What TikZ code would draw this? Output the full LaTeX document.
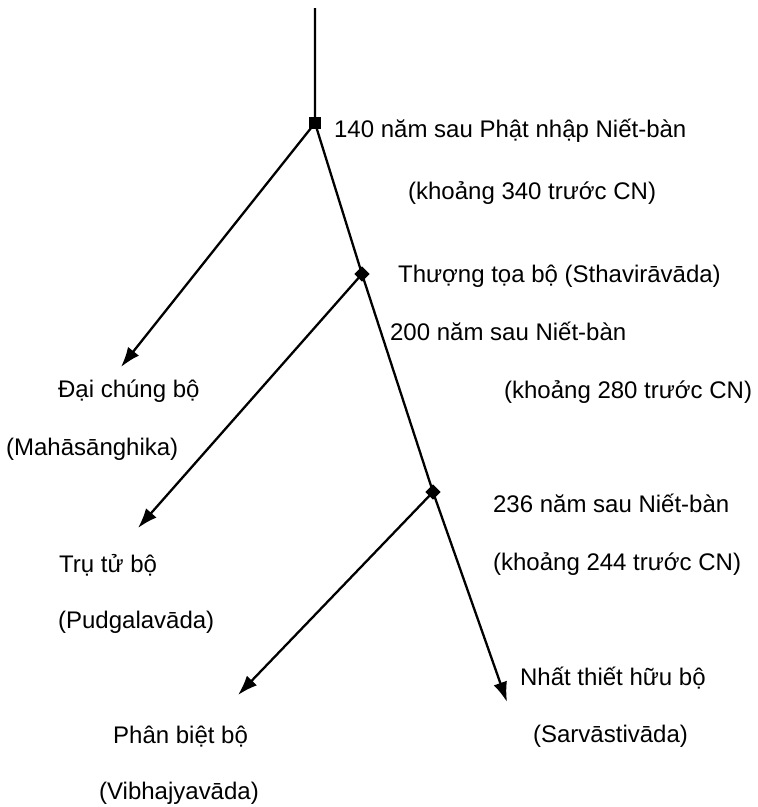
\documentclass[tikz,border=0pt]{standalone}
\usepackage{fontspec}
\setmainfont{Liberation Sans}
\usetikzlibrary{arrows.meta,shapes.geometric}

\begin{document}
\begin{tikzpicture}[x=1pt,y=-1pt,line width=2.3pt,
  lbl/.style={anchor=base west,inner sep=0pt,font=\fontsize{24}{28}\selectfont},
  branch/.style={-{Latex[length=20pt,width=14pt]}},
  knot/.style={diamond,fill,inner sep=0pt,minimum size=16pt}]
\useasboundingbox (0,0) rectangle (758,807);
% stem and split points
\coordinate (top) at (315,8);
\node[fill,inner sep=0pt,minimum size=12pt] (s1) at (315,123) {};
\node[knot] (s2) at (362,274) {};
\node[knot] (s3) at (433,492) {};
\coordinate (e1) at (121,367);
\coordinate (e2) at (138,528);
\coordinate (e3) at (238,695);
\coordinate (e4) at (507,702);
\draw (top) -- (s1.center) -- (s2.center) -- (s3.center);
\draw[branch] (s3.center) -- (e4);
\draw[branch] (s1.center) -- (e1);
\draw[branch] (s2.center) -- (e2);
\draw[branch] (s3.center) -- (e3);
% labels
\node[lbl] (t1) at (333,137) {140 năm sau Phật nhập Niết-bàn};
\node[lbl] (t2) at (407,199) {(khoảng 340 trước CN)};
\node[lbl] (t3) at (397,282) {Thượng tọa bộ (Sthavirāvāda)};
\node[lbl] (t4) at (389,340) {200 năm sau Niết-bàn};
\node[lbl] (t5) at (503,398) {(khoảng 280 trước CN)};
\node[lbl] (t6) at (57,397) {Đại chúng bộ};
\node[lbl] (t7) at (5,455) {(Mahāsānghika)};
\node[lbl] (t8) at (492,512) {236 năm sau Niết-bàn};
\node[lbl] (t9) at (492,570) {(khoảng 244 trước CN)};
\node[lbl] (t10) at (58,572) {Trụ tử bộ};
\node[lbl] (t11) at (57,628) {(Pudgalavāda)};
\node[lbl] (t12) at (519,685) {Nhất thiết hữu bộ};
\node[lbl] (t13) at (532,742) {(Sarvāstivāda)};
\node[lbl] (t14) at (112,743) {Phân biệt bộ};
\node[lbl] (t15) at (98,799) {(Vibhajyavāda)};
\end{tikzpicture}
\end{document}
